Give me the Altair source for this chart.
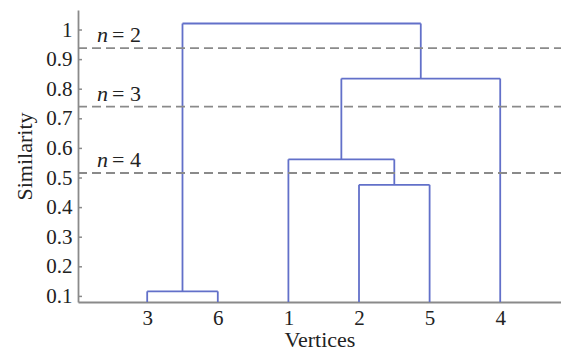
import altair as alt
import pandas as pd

# ---- data ----
leaf_labels = ["3", "6", "1", "2", "5", "4"]          # leaf order along the x axis
merge_a = [0, 3, 2, 8, 6]                              # cluster ids (leaves 0..5, merges 6..)
merge_b = [1, 4, 7, 5, 9]
merge_height = [0.117, 0.477, 0.563, 0.836, 1.022]     # similarity at each merge
cut_values = [0.939, 0.741, 0.517]                     # dashed cut levels
cut_labels = ["= 2", "= 3", "= 4"]
y_ticks = [0.1, 0.2, 0.3, 0.4, 0.5, 0.6, 0.7, 0.8, 0.9, 1.0]
y_domain = [0.0811, 1.0676]
x_domain = [0.02, 6.861]

W, H = 483, 292
FONT = "Liberation Serif"
BLUE = "#6270c9"
GREY = "#8a8a8a"
TXT = "#222222"

# ---- build dendrogram segments from the merge table ----
pos = {i: i + 1 for i in range(len(leaf_labels))}
hgt = {i: y_domain[0] for i in range(len(leaf_labels))}
segs = []
for k, (a, b, h) in enumerate(zip(merge_a, merge_b, merge_height)):
    cid = len(leaf_labels) + k
    xa, xb = pos[a], pos[b]
    segs.append({"x": xa, "x2": xa, "y": hgt[a], "y2": h})
    segs.append({"x": xb, "x2": xb, "y": hgt[b], "y2": h})
    segs.append({"x": xa, "x2": xb, "y": h, "y2": h})
    pos[cid] = (xa + xb) / 2
    hgt[cid] = h
seg_df = pd.DataFrame(segs)
cut_df = pd.DataFrame({"y": cut_values, "label": cut_labels})
tick_df = pd.DataFrame({"y": y_ticks})

label_expr = "[" + ",".join(["''"] + [f"'{l}'" for l in leaf_labels]) + "][datum.value]"

xscale = alt.Scale(domain=x_domain, nice=False, zero=False)
yscale = alt.Scale(domain=y_domain, nice=False, zero=False)

common = dict(grid=False, domainColor=GREY, domainWidth=1.8, tickSize=0,
              labelFont=FONT, labelFontSize=21, labelColor=TXT,
              titleFont=FONT, titleFontSize=22, titleFontWeight="normal",
              titleColor=TXT, labelOverlap=False)

y_axis = alt.Axis(title="Similarity", values=y_ticks, format=".1~f",
                  labelPadding=6, titlePadding=9, **common)
x_axis = alt.Axis(title="Vertices", values=[1, 2, 3, 4, 5, 6],
                  labelExpr=label_expr, labelPadding=5,
                  titleBaseline="alphabetic", titleY=44, **common)


def yenc():
    return alt.Y("y:Q", scale=yscale, axis=y_axis)


dendro = alt.Chart(seg_df).mark_rule(color=BLUE, strokeWidth=1.8).encode(
    x=alt.X("x:Q", scale=xscale, axis=x_axis),
    x2="x2:Q",
    y=yenc(),
    y2="y2:Q",
)

cuts = alt.Chart(cut_df).mark_rule(color=GREY, strokeWidth=1.8, strokeDash=[9, 5]).encode(
    y=yenc(), x=alt.value(0), x2=alt.value(W)
)

n_text = alt.Chart(cut_df).mark_text(
    text="n", font=FONT, fontSize=22, fontStyle="italic", align="left",
    baseline="alphabetic", dy=-6, color=TXT
).encode(y=yenc(), x=alt.value(19))

eq_text = alt.Chart(cut_df).mark_text(
    font=FONT, fontSize=22, align="left", baseline="alphabetic", dy=-6, dx=15,
    color=TXT
).encode(y=yenc(), x=alt.value(19), text="label:N")

ticks = alt.Chart(tick_df).mark_rule(color=GREY, strokeWidth=1.5).encode(
    y=yenc(), x=alt.value(0), x2=alt.value(4)
)

chart = alt.layer(dendro, cuts, n_text, eq_text, ticks).properties(
    width=W, height=H,
    autosize=alt.AutoSizeParams(type="none"),
    padding={"left": 70, "top": 2, "right": 0, "bottom": 46},
).configure_view(stroke=None)

chart.save("out.html", embed_options={"renderer": "svg", "actions": False})
